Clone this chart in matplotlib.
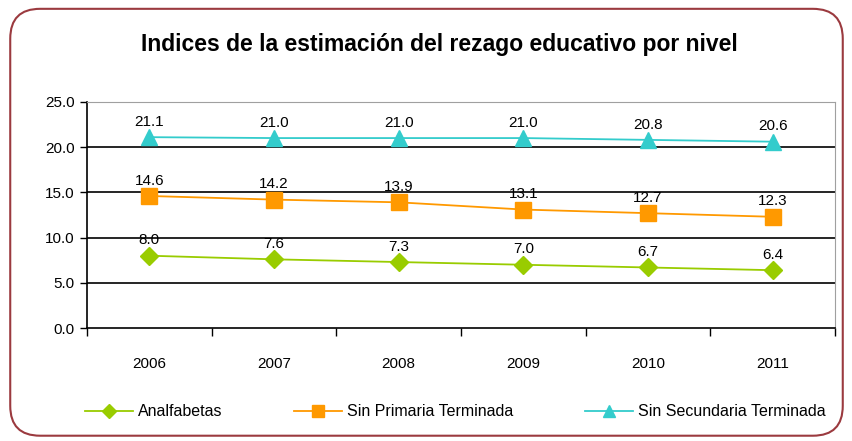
import matplotlib
matplotlib.use("Agg")
import matplotlib.pyplot as plt
from matplotlib.patches import FancyBboxPatch
from matplotlib.lines import Line2D

years = ["2006", "2007", "2008", "2009", "2010", "2011"]
analfabetas = [8.0, 7.6, 7.3, 7.0, 6.7, 6.4]
sin_primaria = [14.6, 14.2, 13.9, 13.1, 12.7, 12.3]
sin_secundaria = [21.1, 21.0, 21.0, 21.0, 20.8, 20.6]
series_names = ["Analfabetas", "Sin Primaria Terminada", "Sin Secundaria Terminada"]
yticks = [0.0, 5.0, 10.0, 15.0, 20.0, 25.0]

plt.rcParams['font.family'] = ['Liberation Sans', 'DejaVu Sans']

fig = plt.figure(figsize=(8.53, 4.41), dpi=100)
frame = FancyBboxPatch((0.012, 0.012), 0.976, 0.968, boxstyle="round,pad=0,rounding_size=0.035",
                       transform=fig.transFigure, facecolor="none", edgecolor="#9b3a3f", linewidth=1.5,
                       mutation_aspect=853/441, zorder=-1)
fig.patches.append(frame)

ax = fig.add_axes([0.102, 0.256, 0.877, 0.513])
ax.set_facecolor("none")
x = list(range(len(years)))
colors = ["#99cc00", "#ff9900", "#33cccc"]
markers = ["D", "s", "^"]
msizes = [9, 11, 11]
data = [analfabetas, sin_primaria, sin_secundaria]
for vals, c, m, ms, name in zip(data, colors, markers, msizes, series_names):
    ax.plot(x, vals, color=c, marker=m, markersize=ms, linewidth=1.3, label=name, zorder=3)
    for xi, v in zip(x, vals):
        ax.annotate(f"{v:.1f}", (xi, v), xytext=(0, 6), textcoords="offset points",
                    ha="center", va="bottom", fontsize=11, color="black", zorder=4)

ax.set_xlim(-0.5, len(years) - 0.5)
ax.set_ylim(0, 25)
ax.set_yticks(yticks)
ax.set_yticklabels([f"{t:.1f}" for t in yticks], fontsize=11)
ax.set_xticks(x)
ax.set_xticklabels(years, fontsize=11)
ax.tick_params(axis='x', length=0, pad=21)
ax.set_xticks([i - 0.5 for i in range(len(years) + 1)], minor=True)
ax.tick_params(axis='x', which='minor', length=6, width=1, direction='out', color='black')
ax.tick_params(axis='y', length=5, width=1, direction='out', color='black', pad=4)
for yv in yticks[1:-1]:
    ax.axhline(yv, color="black", linewidth=1.2, zorder=1)
ax.spines['left'].set_color('black')
ax.spines['left'].set_linewidth(1.2)
ax.spines['bottom'].set_color('black')
ax.spines['bottom'].set_linewidth(1.2)
ax.spines['top'].set_color('#a0a0a0')
ax.spines['right'].set_color('#a0a0a0')

fig.text(0.515, 0.9, "Indices de la estimación del rezago educativo por nivel",
         ha="center", va="center", fontsize=16.5, fontweight="bold")

handles = [Line2D([0], [0], color=c, marker=m, markersize=ms - 2, linewidth=1.3)
           for c, m, ms in zip(colors, markers, msizes)]
fig.legend(handles, series_names, loc="center", bbox_to_anchor=(0.534, 0.066), ncol=3,
           frameon=False, fontsize=11.5, columnspacing=4.5, handlelength=3, handletextpad=0.3)

fig.savefig("out.png", dpi=100)
